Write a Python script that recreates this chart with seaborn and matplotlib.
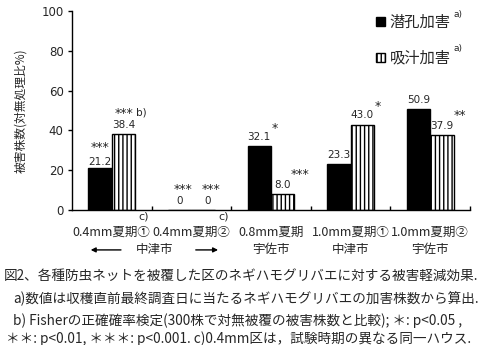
import matplotlib
matplotlib.use("Agg")
import matplotlib.pyplot as plt
import seaborn as sns
import pandas as pd
from matplotlib.patches import Patch
import matplotlib.transforms as mtransforms

categories = ['0.4mm夏期①', '0.4mm夏期②', '0.8mm夏期', '1.0mm夏期①', '1.0mm夏期②']
cities = ['', '', '宇佐市', '中津市', '宇佐市']
shared_city = '中津市'
series_names = ['潜孔加害', '吸汁加害']
mining = [21.2, 0, 32.1, 23.3, 50.9]
sucking = [38.4, 0, 8.0, 43.0, 37.9]
mining_labels = ['21.2', '0', '32.1', '23.3', '50.9']
sucking_labels = ['38.4', '0', '8.0', '43.0', '37.9']
sig_mining = ['***', '***', '*', '', '']
sig_sucking = ['***', '***', '***', '*', '**']
yticks = [0, 20, 40, 60, 80, 100]
ylabel = '被害株数(対無処理比%)'
caption = [
    '図2、各種防虫ネットを被覆した区のネギハモグリバエに対する被害軽減効果.',
    'a)数値は収穫直前最終調査日に当たるネギハモグリバエの加害株数から算出.',
    'b) Fisherの正確確率検定(300株で対無被覆の被害株数と比較); ＊: p<0.05 ,',
    '＊＊: p<0.01, ＊＊＊: p<0.001. c)0.4mm区は，試験時期の異なる同一ハウス.',
]

sns.set_theme(style='white')
plt.rcParams['font.family'] = ['Noto Sans CJK JP', 'DejaVu Sans']
plt.rcParams['hatch.linewidth'] = 1.0

df = pd.DataFrame({
    'cat': categories * 2,
    'series': [series_names[0]] * 5 + [series_names[1]] * 5,
    'value': mining + sucking,
})

fig = plt.figure(figsize=(5, 3.45), dpi=100)
ax = fig.add_axes([0.144, 0.391, 0.796, 0.577])
sns.barplot(data=df, x='cat', y='value', hue='series', order=categories,
            hue_order=series_names, palette=['black', 'white'], width=0.59,
            gap=0, edgecolor='black', linewidth=1.0, ax=ax, legend=False,
            errorbar=None)
for bar in ax.containers[1]:
    bar.set_hatch('||||')
    bar.set_facecolor('white')
    bar.set_edgecolor('black')

ax.set_xlim(-0.5, 4.5)
ax.set_ylim(0, 100)
ax.set_yticks(yticks)
ax.set_yticklabels([str(v) for v in yticks], fontsize=8.5, family='DejaVu Sans')
ax.set_ylabel(ylabel, fontsize=8.5, labelpad=10)
ax.set_xlabel('')
ax.set_xticks(range(5))
ax.set_xticklabels(categories, fontsize=9)
ax.tick_params(axis='x', which='major', length=0, pad=11)
ax.set_xticks([0.5, 1.5, 2.5, 3.5, 4.5], minor=True)
ax.tick_params(axis='x', which='minor', direction='in', length=3, width=1, color='black', bottom=True)
ax.tick_params(axis='y', direction='out', length=3, width=1, color='black', left=True, pad=3)
for s in ['top', 'right']:
    ax.spines[s].set_visible(False)
for s in ['left', 'bottom']:
    ax.spines[s].set_color('black')
    ax.spines[s].set_linewidth(1.0)

# value labels and significance marks
fs_val = 7.5
fs_sig = 9
trans_text = dict(textcoords='offset points', ha='center', va='center', family='DejaVu Sans')
for i, (bm, bs) in enumerate(zip(ax.containers[0], ax.containers[1])):
    for bar, lab, sig, j in [(bm, mining_labels[i], sig_mining[i], 0), (bs, sucking_labels[i], sig_sucking[i], 1)]:
        xc = bar.get_x() + bar.get_width() / 2
        h = bar.get_height()
        if i == 0:
            ax.annotate(lab, (xc, h), xytext=(0, 4.5 if j == 0 else 6.5), fontsize=fs_val, **trans_text)
            ax.annotate(sig, (xc, h), xytext=(0, 14.5), fontsize=fs_sig, **trans_text)
            if j == 1:
                ax.annotate('b)', (xc, h), xytext=(13, 15.5), fontsize=fs_val, **trans_text)
        elif i == 1:
            dx = 0 if j == 0 else 3.5
            ax.annotate(lab, (xc, h), xytext=(dx, 6.5), fontsize=fs_val, **trans_text)
            ax.annotate(sig, (xc, h), xytext=(dx + 2.5, 15), fontsize=fs_sig, **trans_text)
        else:
            ax.annotate(lab, (xc, h), xytext=(0, 6.5), fontsize=fs_val, **trans_text)
            if sig:
                w = len(lab) * 2.2 + len(sig) * 1.6 + 1.0
                ax.annotate(sig, (xc, h), xytext=(w, 12.5 + len(sig) * 0.5), fontsize=fs_sig, **trans_text)

# c) marks near boundaries
blend = mtransforms.blended_transform_factory(ax.transData, ax.transAxes)
for xb in [0.5, 1.5]:
    ax.text(xb - 0.1, -0.03, 'c)', transform=blend, fontsize=8, ha='center', va='center', family='DejaVu Sans')

# second row: cities and arrows
yrow = -0.2
for i, c in enumerate(cities):
    if c:
        ax.text(i, yrow, c, transform=blend, fontsize=9, ha='center', va='center')
ax.text(0.54, yrow, shared_city, transform=blend, fontsize=9, ha='center', va='center')
ax.annotate('', xy=(-0.3, yrow), xytext=(0.15, yrow), xycoords=blend, textcoords=blend,
            arrowprops=dict(arrowstyle='-|>', color='black', lw=1, mutation_scale=7), annotation_clip=False)
ax.annotate('', xy=(1.37, yrow), xytext=(1.02, yrow), xycoords=blend, textcoords=blend,
            arrowprops=dict(arrowstyle='-|>', color='black', lw=1, mutation_scale=7), annotation_clip=False)

# legend
handles = [Patch(facecolor='black', edgecolor='black', label=series_names[0]),
           Patch(facecolor='white', edgecolor='black', hatch='||||', label=series_names[1])]
leg = fig.legend(handles=handles, loc='upper left', bbox_to_anchor=(0.752, 0.96), frameon=False,
                 fontsize=11, handlelength=0.6, handleheight=0.6, handletextpad=0.3,
                 labelspacing=1.25, borderpad=0, borderaxespad=0)
fig.text(0.908, 0.958, 'a)', fontsize=6.5, family='DejaVu Sans', ha='left', va='center')
fig.text(0.908, 0.858, 'a)', fontsize=6.5, family='DejaVu Sans', ha='left', va='center')

# caption
cap_pos = [(0.008, 0.200), (0.026, 0.134), (0.026, 0.072), (0.012, 0.018)]
for (x, y), line in zip(cap_pos, caption):
    fig.text(x, y, line, fontsize=9.8, ha='left', va='center')

fig.savefig('out.png', dpi=100, facecolor='white')
